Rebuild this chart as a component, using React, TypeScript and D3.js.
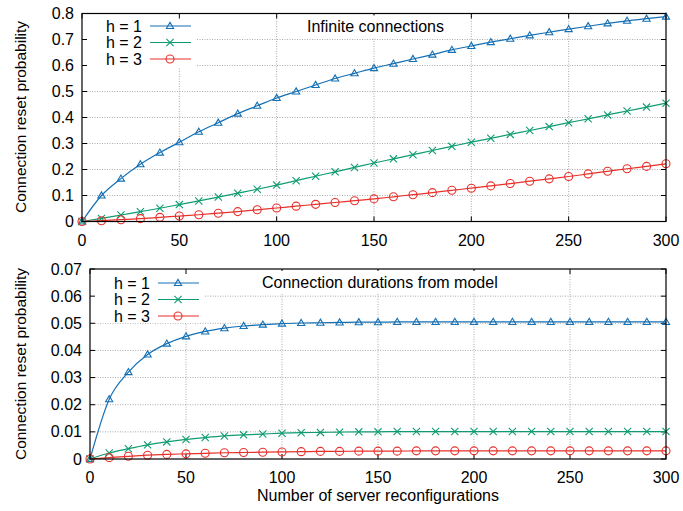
import React from "react";
import * as d3 from "d3";

const xs = d3.range(0, 301, 10);

// Top panel: Infinite connections
const topH1 = [0, 0.1, 0.165, 0.22, 0.265, 0.305, 0.345, 0.38, 0.415, 0.445, 0.475, 0.5, 0.525, 0.55, 0.57, 0.59, 0.607, 0.625, 0.642, 0.66, 0.675, 0.69, 0.703, 0.716, 0.728, 0.74, 0.751, 0.762, 0.772, 0.78, 0.788];
const topH2 = [0, 0.012, 0.025, 0.038, 0.051, 0.065, 0.079, 0.094, 0.109, 0.124, 0.14, 0.157, 0.174, 0.191, 0.208, 0.225, 0.241, 0.257, 0.273, 0.289, 0.305, 0.32, 0.335, 0.35, 0.365, 0.38, 0.395, 0.41, 0.425, 0.44, 0.455];
const topH3 = [0, 0.003, 0.007, 0.011, 0.016, 0.021, 0.026, 0.032, 0.038, 0.045, 0.052, 0.059, 0.066, 0.073, 0.08, 0.087, 0.095, 0.103, 0.111, 0.12, 0.128, 0.137, 0.146, 0.155, 0.164, 0.173, 0.183, 0.193, 0.203, 0.212, 0.222];

// Bottom panel: Connection durations from model
const botH1 = [0, 0.022, 0.032, 0.0385, 0.0425, 0.0452, 0.047, 0.0482, 0.049, 0.0495, 0.0499, 0.0501, 0.0502, 0.0503, 0.0504, 0.0504, 0.0505, 0.0505, 0.0505, 0.0505, 0.0505, 0.0505, 0.0505, 0.0505, 0.0505, 0.0505, 0.0505, 0.0505, 0.0505, 0.0505, 0.0505];
const botH2 = [0, 0.0022, 0.0038, 0.0052, 0.0063, 0.0072, 0.0079, 0.0085, 0.0089, 0.0092, 0.0095, 0.0097, 0.0098, 0.0099, 0.01, 0.01, 0.0101, 0.0101, 0.0101, 0.0101, 0.0101, 0.0101, 0.0101, 0.0101, 0.0101, 0.0101, 0.0101, 0.0101, 0.0101, 0.0101, 0.0101];
const botH3 = [0, 0.0005, 0.001, 0.0014, 0.0017, 0.0019, 0.0021, 0.0023, 0.0024, 0.0025, 0.0026, 0.0027, 0.0028, 0.0028, 0.0029, 0.0029, 0.0029, 0.003, 0.003, 0.003, 0.003, 0.003, 0.003, 0.003, 0.003, 0.003, 0.003, 0.003, 0.003, 0.003, 0.003];

const seriesNames = ["h = 1", "h = 2", "h = 3"];
const colors = ["#1470b5", "#0f9c72", "#e8302a"];
const markers = ["triangle", "cross", "circle"];

const xTicks = [0, 50, 100, 150, 200, 250, 300];
const topYTicks = [0, 0.1, 0.2, 0.3, 0.4, 0.5, 0.6, 0.7, 0.8];
const botYTicks = [0, 0.01, 0.02, 0.03, 0.04, 0.05, 0.06, 0.07];

const FONT = "Liberation Sans, Arial, Helvetica, sans-serif";
const FS = 16;

function Marker({ type, x, y, color }: { type: string; x: number; y: number; color: string }) {
  if (type === "triangle") {
    const s = 3.6;
    return <path d={`M${x},${y - s} L${x + s},${y + s * 0.7} L${x - s},${y + s * 0.7} Z`} fill="none" stroke={color} strokeWidth={1.1} />;
  }
  if (type === "cross") {
    const s = 3.6;
    return <path d={`M${x - s},${y - s} L${x + s},${y + s} M${x - s},${y + s} L${x + s},${y - s}`} stroke={color} strokeWidth={1.1} />;
  }
  return <circle cx={x} cy={y} r={4} fill="none" stroke={color} strokeWidth={1.1} />;
}

function Panel({
  left, right, top, bottom, yMax, yTicks, yFmt, data, title, titleX, titleW, legendX, legendY, legendBox,
}: {
  left: number; right: number; top: number; bottom: number; yMax: number; yTicks: number[];
  yFmt: (v: number) => string; data: number[][]; title: string; titleX: number; titleW: number; legendX: number; legendY: number;
  legendBox: [number, number, number, number];
}) {
  const x = d3.scaleLinear().domain([0, 300]).range([left, right]);
  const y = d3.scaleLinear().domain([0, yMax]).range([bottom, top]);
  const line = d3.line<number>().x((_, i) => x(xs[i])).y((d) => y(d)).curve(d3.curveMonotoneX);
  const tl = 5;
  return (
    <g>
      {xTicks.slice(1, -1).map((t) => (
        <line key={"gx" + t} x1={x(t)} x2={x(t)} y1={top} y2={bottom} stroke="#aaaaaa" strokeWidth={1} strokeDasharray="1,1.5" />
      ))}
      {yTicks.slice(1, -1).map((t) => (
        <line key={"gy" + t} x1={left} x2={right} y1={y(t)} y2={y(t)} stroke="#aaaaaa" strokeWidth={1} strokeDasharray="1,1.5" />
      ))}
      <rect x={legendBox[0]} y={legendBox[1]} width={legendBox[2]} height={legendBox[3]} fill="white" />
      {xTicks.map((t) => (
        <g key={"tx" + t}>
          <line x1={x(t)} x2={x(t)} y1={bottom} y2={bottom - tl} stroke="black" />
          <line x1={x(t)} x2={x(t)} y1={top} y2={top + tl} stroke="black" />
          <text x={x(t)} y={bottom + 24} textAnchor="middle" fontSize={FS} fontFamily={FONT}>{t}</text>
        </g>
      ))}
      {yTicks.map((t) => (
        <g key={"ty" + t}>
          <line x1={left} x2={left + tl} y1={y(t)} y2={y(t)} stroke="black" />
          <line x1={right} x2={right - tl} y1={y(t)} y2={y(t)} stroke="black" />
          <text x={left - 8} y={y(t) + 5.5} textAnchor="end" fontSize={FS} fontFamily={FONT}>{yFmt(t)}</text>
        </g>
      ))}
      <rect x={titleX - 4} y={top + 2} width={titleW + 8} height={22} fill="white" />
      <text x={titleX} y={top + 18.5} fontSize={FS} fontFamily={FONT}>{title}</text>
      {data.map((d, si) => (
        <g key={"s" + si}>
          <path d={line(d) || ""} fill="none" stroke={colors[si]} strokeWidth={1.2} />
          {d.map((v, i) => (
            <Marker key={i} type={markers[si]} x={x(xs[i])} y={y(v)} color={colors[si]} />
          ))}
        </g>
      ))}
      {seriesNames.map((n, si) => (
        <g key={"l" + si}>
          <text x={legendX} y={legendY + si * 16.5 + 5.5} textAnchor="end" fontSize={FS} fontFamily={FONT}>{n}</text>
          <line x1={legendX + 8} x2={legendX + 49} y1={legendY + si * 16.5} y2={legendY + si * 16.5} stroke={colors[si]} strokeWidth={1.2} />
          <Marker type={markers[si]} x={legendX + 28} y={legendY + si * 16.5} color={colors[si]} />
        </g>
      ))}
      <rect x={left} y={top} width={right - left} height={bottom - top} fill="none" stroke="black" strokeWidth={1.2} />
    </g>
  );
}

export default function App() {
  return (
    <svg width={683} height={511} style={{ display: "block", position: "absolute", left: 0, top: 0 }}>
      <rect width={683} height={511} fill="white" />
      <Panel
        left={82} right={666} top={13.5} bottom={221.5} yMax={0.8} yTicks={topYTicks}
        yFmt={(v) => (v === 0 ? "0" : d3.format(".1f")(v))}
        data={[topH1, topH2, topH3]} title="Infinite connections" titleX={307} titleW={136}
        legendX={142} legendY={26} legendBox={[84, 15, 112, 52]}
      />
      <Panel
        left={90} right={666} top={269} bottom={459} yMax={0.07} yTicks={botYTicks}
        yFmt={(v) => (v === 0 ? "0" : d3.format(".2f")(v))}
        data={[botH1, botH2, botH3]} title="Connection durations from model" titleX={262} titleW={236}
        legendX={150} legendY={283} legendBox={[92, 271, 112, 52]}
      />
      <text transform="translate(26,117) rotate(-90)" textAnchor="middle" fontSize={15.5} fontFamily={FONT}>Connection reset probability</text>
      <text transform="translate(26,364) rotate(-90)" textAnchor="middle" fontSize={15.5} fontFamily={FONT}>Connection reset probability</text>
      <text x={378} y={501} textAnchor="middle" fontSize={FS} fontFamily={FONT}>Number of server reconfigurations</text>
    </svg>
  );
}
